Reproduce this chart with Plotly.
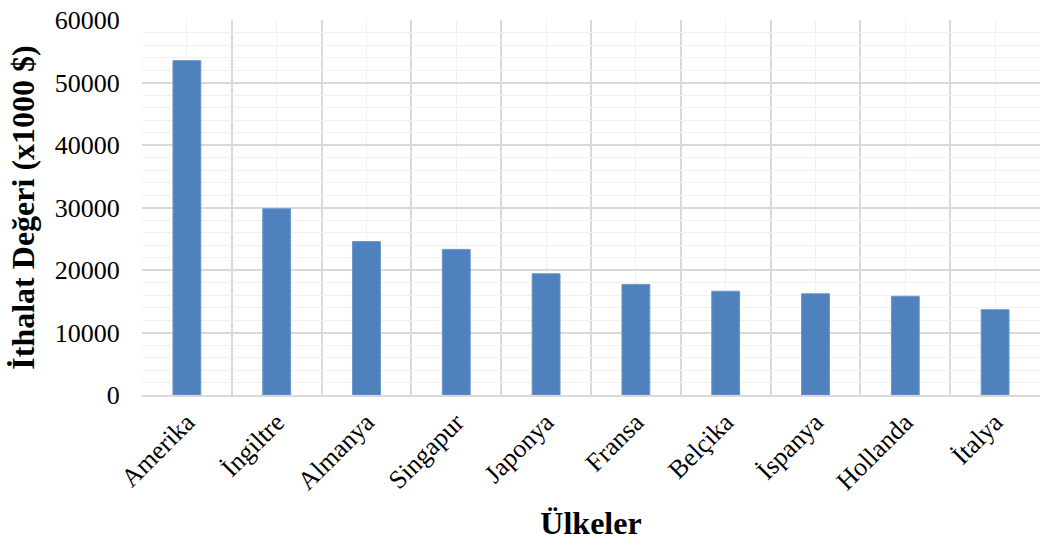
import plotly.graph_objects as go

countries = ["Amerika", "İngiltre", "Almanya", "Singapur", "Japonya",
             "Fransa", "Belçika", "İspanya", "Hollanda", "İtalya"]
values = [53500, 29800, 24550, 23300, 19400, 17700, 16600, 16200, 15800, 13650]
y_ticks = [0, 10000, 20000, 30000, 40000, 50000, 60000]

x_pos = list(range(len(countries)))
boundaries = [i - 0.5 for i in range(len(countries) + 1)]

font_family = "Liberation Serif, Times New Roman, serif"

fig = go.Figure()
fig.add_trace(go.Bar(
    x=x_pos, y=values,
    marker=dict(color="#4f81bd", line=dict(color="#6b95c9", width=1)),
    width=0.31,
))

fig.update_layout(
    width=1041, height=546,
    margin=dict(l=142, r=1, t=20, b=151),
    paper_bgcolor="white", plot_bgcolor="white",
    showlegend=False,
    font=dict(family=font_family, color="black", size=26),
)

fig.update_xaxes(
    range=[-0.5, len(countries) - 0.5],
    tickmode="array", tickvals=x_pos, ticktext=countries,
    tickangle=-45,
    tickfont=dict(family=font_family, size=26, color="black"),
    showgrid=True, gridcolor="#f0f0f0", gridwidth=1,
    minor=dict(tickmode="array", tickvals=boundaries, showgrid=True,
               gridcolor="#d9d9d9", gridwidth=1.5, ticks=""),
    ticks="",
    showline=True, linecolor="#d9d9d9", linewidth=1.5,
    zeroline=False,
    title=dict(text="<b>Ülkeler</b>", font=dict(family=font_family, size=32, color="black"),
               standoff=17),
    automargin=False,
)

fig.update_yaxes(
    range=[0, 60000],
    tickmode="array", tickvals=y_ticks, ticktext=[str(v) for v in y_ticks],
    tickfont=dict(family=font_family, size=26, color="black"),
    ticklabeloverflow="allow",
    showgrid=True, gridcolor="#d9d9d9", gridwidth=1.5,
    minor=dict(dtick=2000, showgrid=True, gridcolor="#f0f0f0", gridwidth=1, ticks=""),
    ticks="outside", ticklen=16, tickcolor="rgba(0,0,0,0)",
    showline=False, zeroline=False,
    title=dict(text="<b>İthalat Değeri (x1000 $)</b>",
               font=dict(family=font_family, size=32, color="black"), standoff=10),
    automargin=False,
)

fig.write_html("out.html",
               config={"displayModeBar": False},
               post_script="document.body.style.margin='0';document.body.style.overflow='hidden';")
